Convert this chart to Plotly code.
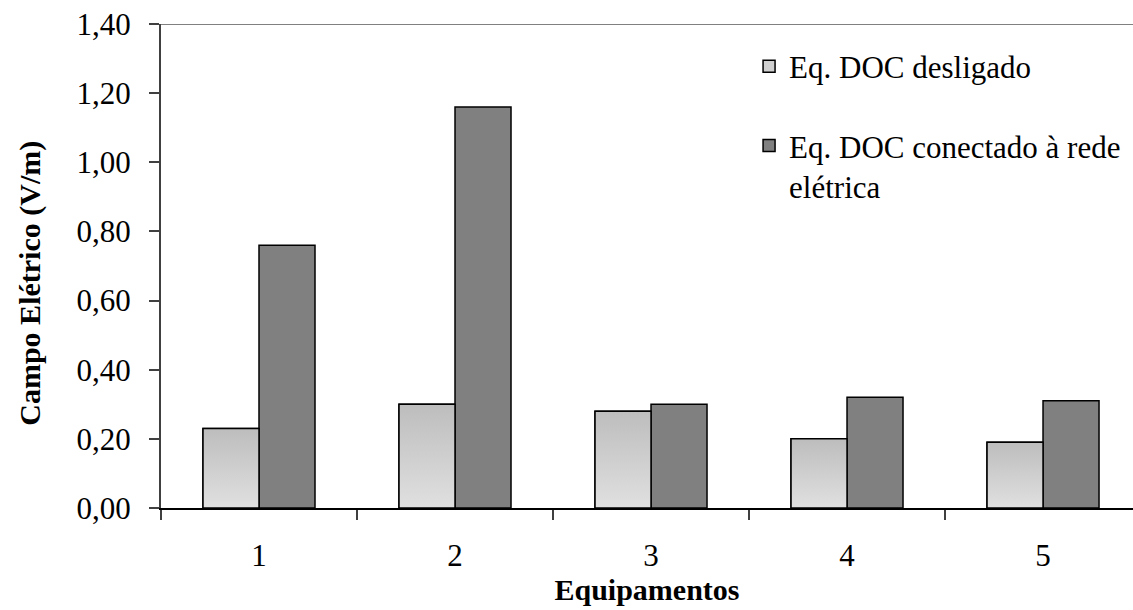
import plotly.graph_objects as go

# Electric field readings per equipment, two operating conditions
equipamentos = [1, 2, 3, 4, 5]
tick_labels = ["1", "2", "3", "4", "5"]
desligado = [0.23, 0.30, 0.28, 0.20, 0.19]
conectado = [0.76, 1.16, 0.30, 0.32, 0.31]

nome_desligado = "Eq. DOC desligado"
nome_conectado = "Eq. DOC conectado à rede<br>elétrica"

y_max = 1.40
BAR_W = 0.2857  # width of each bar, in category units
FONT = "'Times New Roman', 'Liberation Serif', 'DejaVu Serif', serif"
TEXT_SIZE = 31

fig = go.Figure()

# light series: bar used for the legend key, painted over by a gradient polygon
fig.add_trace(go.Bar(
    x=equipamentos, y=desligado, name=nome_desligado,
    width=BAR_W, offset=-BAR_W,
    marker=dict(color="#cfcfcf", line=dict(color="#000000", width=1.5)),
    legendgroup="a", hoverinfo="skip",
))
fig.add_trace(go.Bar(
    x=equipamentos, y=conectado, name=nome_conectado,
    width=BAR_W, offset=0,
    marker=dict(color="#808080", line=dict(color="#000000", width=1.5)),
    legendgroup="b", hoverinfo="skip",
))

# vertical gradient fill for each light bar
for xc, v in zip(equipamentos, desligado):
    x0, x1 = xc - BAR_W, xc
    fig.add_trace(go.Scatter(
        x=[x0, x0, x1, x1, x0], y=[0, v, v, 0, 0],
        mode="lines", fill="toself",
        fillgradient=dict(type="vertical", start=0, stop=v,
                          colorscale=[[0, "#e0e0e0"], [1, "#bdbdbd"]]),
        line=dict(color="#000000", width=1.5),
        showlegend=False, hoverinfo="skip",
    ))

# top border of the plot area
fig.add_shape(type="line", xref="paper", yref="y", x0=0, x1=1, y0=y_max, y1=y_max,
              line=dict(color="#808080", width=2), layer="below")

fig.update_layout(
    width=1133, height=610,
    margin=dict(l=161, r=0, t=24, b=102),
    paper_bgcolor="white", plot_bgcolor="white",
    separators=",.",
    font=dict(family=FONT, size=TEXT_SIZE, color="#000000"),
    barmode="overlay",
    showlegend=True,
    legend=dict(
        x=0.605, y=0.968, xanchor="left", yanchor="top",
        bgcolor="rgba(0,0,0,0)", traceorder="grouped", tracegroupgap=36,
        valign="top", font=dict(family=FONT, size=TEXT_SIZE),
    ),
    xaxis=dict(
        range=[0.5, 5.459], tickvals=equipamentos, ticktext=tick_labels,
        ticks="", showgrid=False, zeroline=False,
        showline=True, linecolor="#000000", linewidth=1.5,
        tickfont=dict(family=FONT, size=TEXT_SIZE),
        minor=dict(tick0=0.5, dtick=1, ticks="outside", ticklen=10,
                   tickcolor="#404040", tickwidth=1.5, showgrid=False),
        title=dict(text="<b>Equipamentos</b>", font=dict(family=FONT, size=30), standoff=6),
        ticklabelstandoff=19,
    ),
    yaxis=dict(
        range=[0, y_max], dtick=0.2, tickformat=".2f",
        ticks="outside", ticklen=10, tickwidth=1.5, tickcolor="#404040",
        showgrid=False, zeroline=False,
        showline=True, linecolor="#404040", linewidth=2,
        tickfont=dict(family=FONT, size=TEXT_SIZE),
        ticklabelstandoff=12,
    ),
    annotations=[dict(
        text="<b>Campo Elétrico (V/m)</b>", textangle=-90,
        xref="paper", yref="paper", x=-0.135, y=0.465,
        xanchor="center", yanchor="middle", showarrow=False,
        font=dict(family=FONT, size=30),
    )],
)

fig.write_html("out.html")
